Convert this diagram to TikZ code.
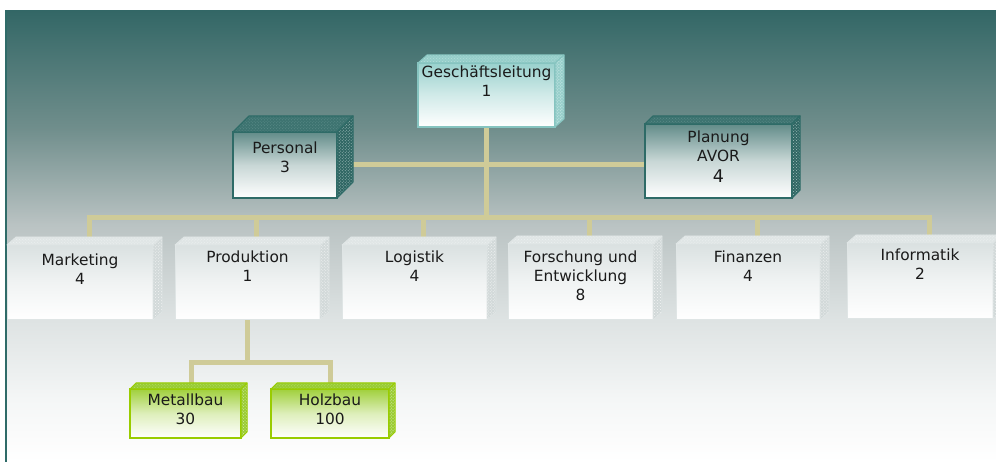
\documentclass[tikz,border=0pt]{standalone}
\usepackage{fontspec}
\setmainfont{DejaVu Sans}
\usetikzlibrary{patterns,calc}
\definecolor{bgtop}{RGB}{51,103,102}
\definecolor{bgA}{RGB}{112,142,140}
\definecolor{bgB}{RGB}{186,195,195}
\definecolor{bgC}{RGB}{222,227,227}
\definecolor{bgD}{RGB}{244,246,246}
\definecolor{bgline}{HTML}{2F6B68}
\definecolor{conncol}{HTML}{CFCB98}
\definecolor{txt}{HTML}{1A1A1A}
% light teal (Geschaeftsleitung)
\definecolor{glfront}{HTML}{99D1CD}
\definecolor{glborder}{HTML}{86C4C0}
\definecolor{gltop}{HTML}{96CECA}
\definecolor{gltoppat}{HTML}{B4DEDB}
\definecolor{glside}{HTML}{98CFCB}
\definecolor{glsidepat}{HTML}{D2EDEB}
% dark teal
\definecolor{dkfront}{HTML}{628C89}
\definecolor{dkborder}{HTML}{2E6B67}
\definecolor{dktop}{HTML}{3D7370}
\definecolor{dktoppat}{HTML}{5E8E8B}
\definecolor{dkside}{HTML}{2F6663}
\definecolor{dksidepat}{HTML}{A9C4C2}
% gray
\definecolor{gyfront}{HTML}{DAE1E1}
\definecolor{gyborder}{HTML}{DFE5E5}
\definecolor{gytop}{HTML}{E0E6E6}
\definecolor{gytoppat}{HTML}{EDF1F1}
\definecolor{gyside}{HTML}{D2D9D9}
\definecolor{gysidepat}{HTML}{F3F5F5}
% green
\definecolor{grfront}{HTML}{A0D03C}
\definecolor{grborder}{HTML}{99CC00}
\definecolor{grtop}{HTML}{99CC33}
\definecolor{grtoppat}{HTML}{B5DC6A}
\definecolor{grside}{HTML}{9BCC35}
\definecolor{grsidepat}{HTML}{D8EDB0}
\pgfdeclareverticalshading{bgshade}{100bp}{color(0bp)=(white); color(25bp)=(white); color(32bp)=(bgD); color(40.7bp)=(bgC); color(51.3bp)=(bgB); color(62bp)=(bgA); color(75bp)=(bgtop); color(100bp)=(bgtop)}
\pgfdeclarelayer{bglayer}
\pgfdeclarelayer{connlayer}
\pgfsetlayers{bglayer,connlayer,main}
\newcommand\orgcube[8]{%
  \node[front#8, anchor=north west, minimum width={(#4-#2)*1bp}, minimum height={(#5-#3)*1bp}] (#1) at (#2,#3) {};
  \path[top#8] (#1.north west) -- ++(#6,-#7) -- ($(#1.north east)+(#6,-#7)$) -- (#1.north east) -- cycle;
  \path[side#8] (#1.north east) -- ++(#6,-#7) -- ($(#1.south east)+(#6,-#7)$) -- (#1.south east) -- cycle;
}
\tikzset{
  facebase/.style={outer sep=0pt, inner sep=0pt},
  frontgl/.style={facebase, draw=glborder, line width=1.2bp, top color=glfront, bottom color=white, middle color=glfront!45!white},
  topgl/.style={preaction={fill=gltop}, pattern=crosshatch dots, pattern color=gltoppat, draw=glborder, line width=1bp, line join=round},
  sidegl/.style={preaction={fill=glside}, pattern=crosshatch dots, pattern color=glsidepat, draw=glborder, line width=1bp, line join=round},
  frontdk/.style={facebase, draw=dkborder, line width=1.5bp, top color=dkfront, bottom color=white, middle color=dkfront!35!white},
  topdk/.style={preaction={fill=dktop}, pattern=crosshatch dots, pattern color=dktoppat, draw=dkborder, line width=1.2bp, line join=round},
  sidedk/.style={preaction={fill=dkside}, pattern=crosshatch dots, pattern color=dksidepat, draw=dkborder, line width=1.2bp, line join=round},
  frontgy/.style={facebase, draw=gyborder, line width=1bp, top color=gyfront, bottom color=white, middle color=gyfront!40!white},
  topgy/.style={preaction={fill=gytop}, pattern=crosshatch dots, pattern color=gytoppat, draw=gyborder, line width=0.8bp, line join=round},
  sidegy/.style={preaction={fill=gyside}, pattern=crosshatch dots, pattern color=gysidepat, draw=gyborder, line width=0.8bp, line join=round},
  frontgr/.style={facebase, draw=grborder, line width=1.3bp, top color=grfront, bottom color=white, middle color=grfront!35!white},
  topgr/.style={preaction={fill=grtop}, pattern=crosshatch dots, pattern color=grtoppat, draw=grborder, line width=1bp, line join=round},
  sidegr/.style={preaction={fill=grside}, pattern=crosshatch dots, pattern color=grsidepat, draw=grborder, line width=1bp, line join=round},
  lbl/.style={anchor=base, inner sep=0pt, text=txt, font=\fontsize{15.4bp}{19bp}\selectfont},
  conn/.style={draw=conncol, line width=5bp}
}
\newcommand\lines[1]{\parbox[t]{160bp}{\centering #1}}
\begin{document}
\begin{tikzpicture}[x=1bp,y=-1bp]
\useasboundingbox (0,0) rectangle (996,462);
\begin{pgfonlayer}{bglayer}
  \fill[white] (0,0) rectangle (996,462);
  \shade[shading=bgshade] (5,11) rectangle (996,462);
  \draw[bgline, line width=2bp] (5.5,11) -- (5.5,462);
\end{pgfonlayer}

% boxes
\orgcube{gl}{418}{63}{555}{127}{9}{8}{gl}
\orgcube{pers}{233}{132}{337}{198}{16}{16}{dk}
\orgcube{plan}{645}{124}{792}{198}{8}{8}{dk}
\orgcube{mkt}{7}{245}{153}{320}{9}{8}{gy}
\orgcube{prod}{175}{245}{320}{320}{9}{8}{gy}
\orgcube{log}{342}{245}{487}{320}{9}{8}{gy}
\orgcube{fue}{508}{244}{653}{320}{9}{8}{gy}
\orgcube{fin}{676}{244}{820}{320}{9}{8}{gy}
\orgcube{inf}{847}{243}{993}{319}{9}{8}{gy}
\orgcube{met}{130}{389}{241}{438}{6}{6}{gr}
\orgcube{holz}{271}{389}{389}{438}{6}{6}{gr}

% texts
\node[lbl] (gl-t) at (486.5,78) {\lines{Geschäftsleitung\\1}};
\node[lbl] (pers-t) at (285,154) {\lines{Personal\\3}};
\node[lbl] (plan-t) at (718.5,143) {\lines{Planung\\AVOR\\[2bp]{\fontsize{17.5bp}{19bp}\selectfont 4}}};
\node[lbl] (mkt-t) at (80,266) {\lines{Marketing\\4}};
\node[lbl] (prod-t) at (247.5,263) {\lines{Produktion\\1}};
\node[lbl] (log-t) at (414.5,263) {\lines{Logistik\\4}};
\node[lbl] (fue-t) at (580.5,263) {\lines{Forschung und\\Entwicklung\\8}};
\node[lbl] (fin-t) at (748,263) {\lines{Finanzen\\4}};
\node[lbl] (inf-t) at (920,261) {\lines{Informatik\\2}};
\node[lbl] (met-t) at (185.5,405) {\lines{Metallbau\\30}};
\node[lbl] (holz-t) at (330,405) {\lines{Holzbau\\100}};

% connectors
\coordinate (bus) at (487,218);
\coordinate (sub) at (247.5,363);
\begin{pgfonlayer}{connlayer}
  \draw[conn] (gl.south) -- (gl.south |- bus);
  \draw[conn] (pers.east |- 0,164.5) -- (plan.west |- 0,164.5);
  \foreach \n in {mkt,prod,log,fue,fin,inf}{
    \draw[conn] (\n.north) ++(9,0) |- (bus);
  }
  \draw[conn] (prod.south) -- (sub);
  \draw[conn] (met.north) ++(5.5,0) |- (sub);
  \draw[conn] (holz.north) |- (sub);
\end{pgfonlayer}
\end{tikzpicture}
\end{document}
